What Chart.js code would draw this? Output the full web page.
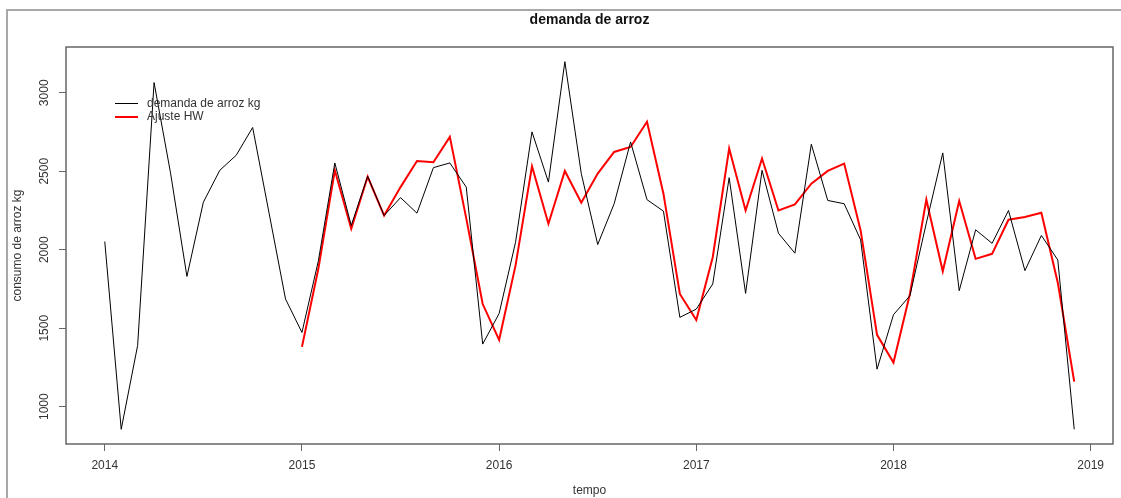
<!DOCTYPE html>
<html>
<head>
<meta charset="utf-8">
<title>demanda de arroz</title>
<script src="https://cdn.jsdelivr.net/npm/chart.js@4/dist/chart.umd.min.js"></script>
<style>
  html, body { margin: 0; padding: 0; background: #fff; }
  #wrap { width: 1121px; height: 498px; }
</style>
</head>
<body>
<div id="wrap"><canvas id="c" width="1121" height="498"></canvas></div>
<script>
// Monthly series, starting January 2014
const startYear = 2014;
const demandaKg = [
  2052, 856, 1390, 3065, 2490, 1830, 2303, 2506, 2602, 2779, 2233, 1686,
  1473, 1930, 2553, 2155, 2468, 2218, 2332, 2233, 2523, 2553, 2399, 1399,
  1594, 2048, 2751, 2431, 3198, 2485, 2033, 2293, 2687, 2319, 2246, 1569,
  1622, 1782, 2459, 1722, 2506, 2105, 1978, 2672, 2314, 2293, 2063, 1239,
  1586, 1707, 2170, 2617, 1739, 2127, 2041, 2250, 1867, 2091, 1935, 856
];
// Holt-Winters fitted values, starting January 2015
const ajusteStart = 12;
const ajusteHW = [
  1381, 1880, 2506, 2133, 2465, 2218, 2399, 2565, 2557, 2719, 2200, 1654,
  1426, 1900, 2532, 2165, 2502, 2300, 2485, 2623, 2655, 2815, 2357, 1718,
  1552, 1952, 2645, 2250, 2581, 2250, 2289, 2421, 2502, 2549, 2123, 1458,
  1281, 1718, 2319, 1863, 2310, 1942, 1974, 2191, 2208, 2236, 1790, 1160
];
const yTicks = [1000, 1500, 2000, 2500, 3000];
const xTicks = [2014, 2015, 2016, 2017, 2018, 2019];
const titleText = 'demanda de arroz';
const xTitle = 'tempo';
const yTitle = 'consumo de arroz kg';
const legendLabels = ['demanda de arroz kg', 'Ajuste HW'];
const seriesColors = ['#000000', '#ff0000'];

const FONT = "'Liberation Sans', Arial, sans-serif";

const toPoints = (vals, offset) => vals.map((v, i) => ({ x: startYear + (offset + i) / 12, y: v }));

// axis ranges extended by 4% on each side
const allVals = demandaKg.concat(ajusteHW);
const yLo = Math.min(...allVals), yHi = Math.max(...allVals);
const yPad = 0.04 * (yHi - yLo);
const xLo = startYear, xHi = startYear + (demandaKg.length - 1) / 12;
const xPad = 0.04 * (xHi - xLo);

const chrome = {
  id: 'chrome',
  beforeDraw(chart) {
    const ctx = chart.ctx;
    ctx.save();
    ctx.fillStyle = '#fff';
    ctx.fillRect(0, 0, chart.width, chart.height);
    ctx.restore();
  },
  afterDatasetsDraw(chart) {
    const { ctx, chartArea: a, scales } = chart;
    const y = scales.y;
    ctx.save();
    // outer frame
    ctx.strokeStyle = '#a8a8a8';
    ctx.lineWidth = 2;
    ctx.strokeRect(7, 10, 1300, 600);
    // plot box
    ctx.strokeStyle = '#666';
    ctx.lineWidth = 1.5;
    ctx.strokeRect(a.left, a.top, a.right - a.left, a.bottom - a.top);

    // title
    ctx.fillStyle = '#111';
    ctx.font = 'bold 14px ' + FONT;
    ctx.textAlign = 'center';
    ctx.textBaseline = 'middle';
    ctx.fillText(titleText, (a.left + a.right) / 2, 20);

    // y tick labels, rotated
    ctx.fillStyle = '#333';
    ctx.font = '12px ' + FONT;
    yTicks.forEach(v => {
      ctx.save();
      ctx.translate(45, y.getPixelForValue(v));
      ctx.rotate(-Math.PI / 2);
      ctx.fillText(String(v), 0, 0);
      ctx.restore();
    });

    // axis titles
    ctx.fillText(xTitle, (a.left + a.right) / 2, 491);
    ctx.save();
    ctx.translate(18, (a.top + a.bottom) / 2);
    ctx.rotate(-Math.PI / 2);
    ctx.fillText(yTitle, 0, 0);
    ctx.restore();

    // legend
    ctx.textAlign = 'left';
    legendLabels.forEach((lab, i) => {
      const ly = 103.5 + i * 13.5;
      ctx.strokeStyle = seriesColors[i];
      ctx.lineWidth = i === 0 ? 1 : 2;
      ctx.beginPath();
      ctx.moveTo(115, ly);
      ctx.lineTo(138, ly);
      ctx.stroke();
      ctx.fillStyle = '#333';
      ctx.fillText(lab, 147, ly);
    });
    ctx.restore();
  }
};

new Chart(document.getElementById('c'), {
  type: 'line',
  data: {
    datasets: [
      {
        label: legendLabels[0],
        data: toPoints(demandaKg, 0),
        borderColor: seriesColors[0],
        borderWidth: 1,
        pointRadius: 0,
        tension: 0,
        fill: false
      },
      {
        label: legendLabels[1],
        data: toPoints(ajusteHW, ajusteStart),
        borderColor: seriesColors[1],
        borderWidth: 2,
        pointRadius: 0,
        tension: 0,
        fill: false
      }
    ]
  },
  options: {
    responsive: false,
    animation: false,
    events: [],
    layout: { padding: { left: 0, top: 47, right: 8, bottom: 0 } },
    plugins: { legend: { display: false }, title: { display: false }, tooltip: { enabled: false } },
    scales: {
      x: {
        type: 'linear',
        min: xLo - xPad,
        max: xHi + xPad,
        border: { display: false },
        grid: { drawOnChartArea: false, drawTicks: true, tickLength: 7, color: '#666', lineWidth: 1 },
        afterBuildTicks: s => { s.ticks = xTicks.map(v => ({ value: v })); },
        ticks: {
          font: { family: FONT, size: 12 },
          color: '#333',
          padding: 7,
          maxRotation: 0,
          autoSkip: false,
          callback: v => String(v)
        },
        afterFit: s => { s.height = 54; }
      },
      y: {
        type: 'linear',
        min: yLo - yPad,
        max: yHi + yPad,
        border: { display: false },
        grid: { drawOnChartArea: false, drawTicks: true, tickLength: 7, color: '#666', lineWidth: 1 },
        afterBuildTicks: s => { s.ticks = yTicks.map(v => ({ value: v })); },
        ticks: { display: false },
        afterFit: s => { s.width = 66; }
      }
    }
  },
  plugins: [chrome]
});
</script>
</body>
</html>
